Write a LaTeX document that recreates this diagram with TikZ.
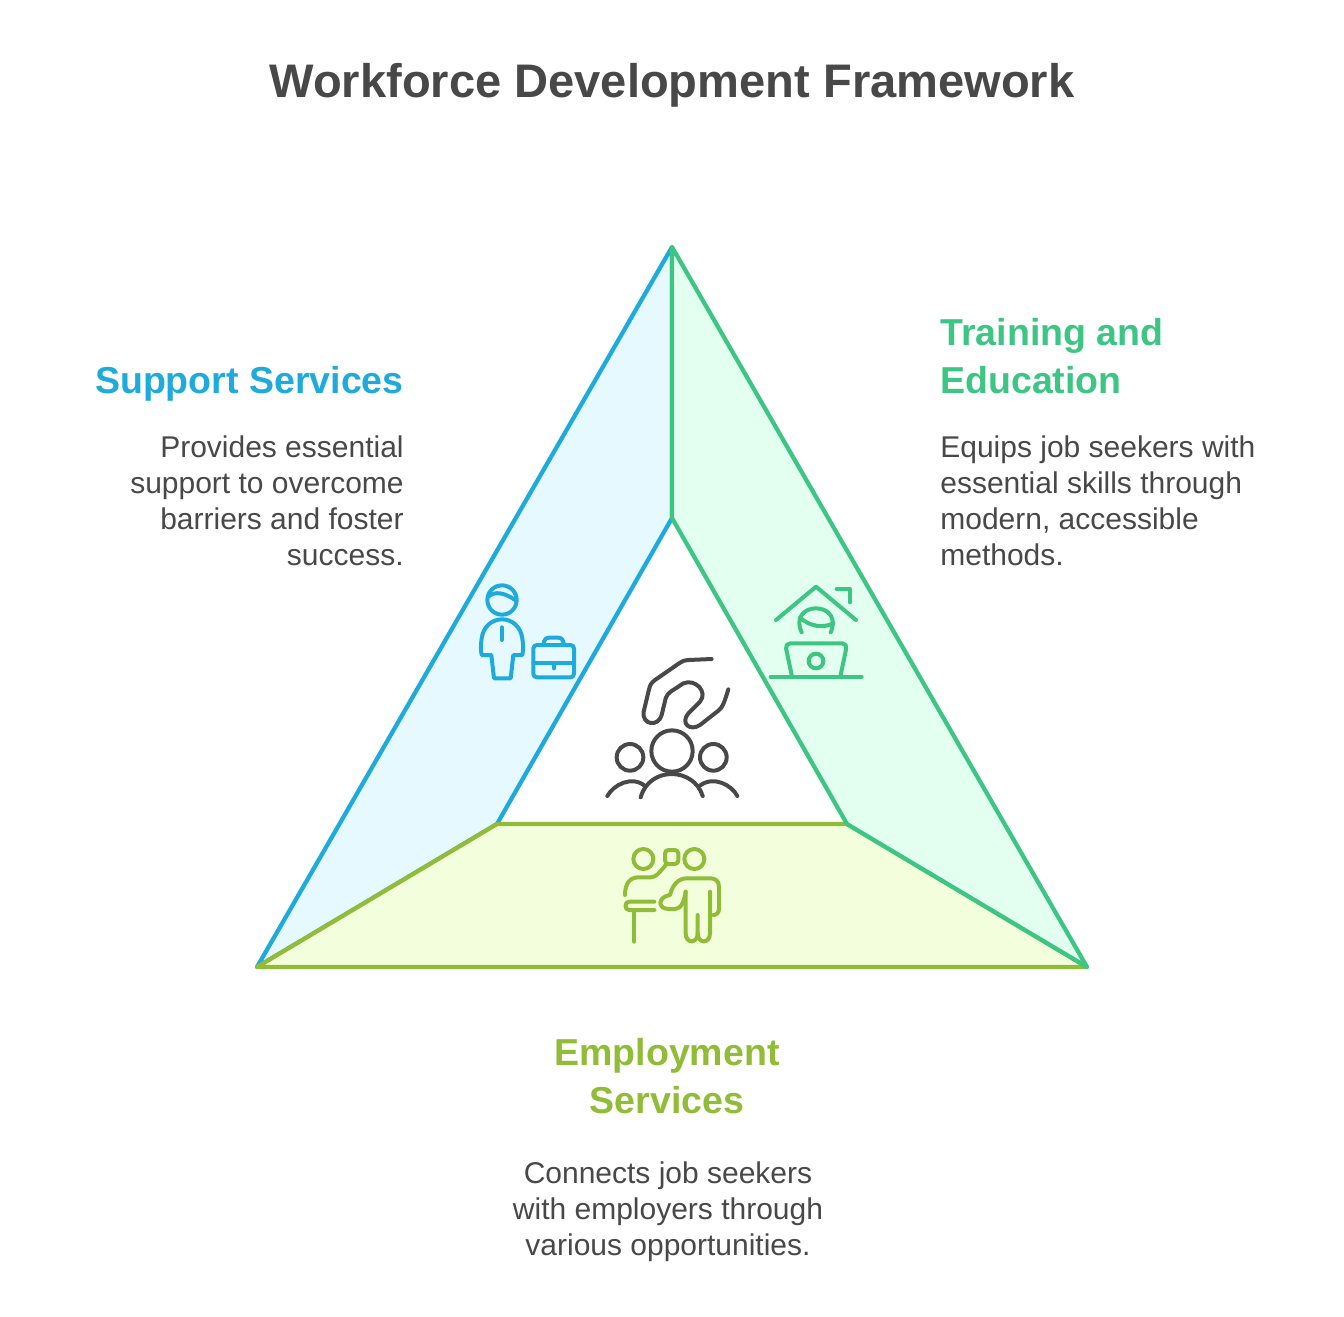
\documentclass[tikz,border=0pt]{standalone}
\usepackage{fontspec}
\setmainfont{Liberation Sans}
\usepackage{xcolor}
\definecolor{bluemain}{HTML}{1EAADB}
\definecolor{bluefill}{HTML}{E6F9FF}
\definecolor{greenmain}{HTML}{3CC583}
\definecolor{greenfill}{HTML}{E2FFF0}
\definecolor{limemain}{HTML}{90BC37}
\definecolor{limefill}{HTML}{F3FFDC}
\definecolor{textgray}{HTML}{484848}
\tikzset{
  side/.style={line width=0.085cm, line join=round},
  icon/.style={line width=0.08cm, line cap=round, line join=round},
  titletext/.style={text=textgray, font=\fontsize{26.8}{32}\selectfont\bfseries},
  headtext/.style={font=\fontsize{21.35}{27.3}\selectfont\bfseries, inner sep=0pt},
  bodytext/.style={text=textgray, font=\fontsize{17.07}{20.5}\selectfont, inner sep=0pt},
  zoomed/.style={x=0.02cm/3, y=-0.02cm/3}
}
\begin{document}
\begin{tikzpicture}[x=0.02cm,y=-0.02cm]
\useasboundingbox (0,0) rectangle (1344,1316);

\node[titletext] (title) at (672,85) {Workforce Development Framework};

%triangle
\coordinate (apex) at (672,247);
\coordinate (left) at (257,967);
\coordinate (right) at (1087,967);
\coordinate (intop) at (672,518);
\coordinate (inleft) at (497,824);
\coordinate (inright) at (847,824);

\draw[side, draw=bluemain, fill=bluefill] (apex)--(left)--(inleft)--(intop)--cycle;
\draw[side, draw=limemain, fill=limefill] (left)--(right)--(inright)--(inleft)--cycle;
\draw[side, draw=greenmain, fill=greenfill] (apex)--(right)--(inright)--(intop)--cycle;

%labels
\node[headtext, text=bluemain, anchor=north east, align=right] (supporthead) at (404,366) {Support Services};
\node[bodytext, anchor=north east, align=right] (supportbody) at (404,435) {Provides essential\\support to overcome\\barriers and foster\\success.};

\node[headtext, text=greenmain, anchor=north west, align=left] (traininghead) at (940,318) {Training and\\Education};
\node[bodytext, anchor=north west, align=left] (trainingbody) at (940,435) {Equips job seekers with\\essential skills through\\modern, accessible\\methods.};

\node[headtext, text=limemain, anchor=north, align=center] (employhead) at (667,1038) {Employment\\Services};
\node[bodytext, anchor=north, align=center] (employbody) at (668,1161) {Connects job seekers\\with employers through\\various opportunities.};

%person and briefcase
\begin{scope}[shift={(460,570)}, zoomed, icon, draw=bluemain]
\draw (126,90) circle[radius=44*0.02cm/3];
\draw (85,80) .. controls (105,62) and (135,68) .. (168,92);
\draw (126,172)--(126,210);
\draw (65,255) .. controls (62,240) and (62,225) .. (65,205) .. controls (70,170) and (95,148) .. (126,148) .. controls (157,148) and (182,170) .. (187,205) .. controls (190,225) and (190,240) .. (187,255) -- (160,255) -- (152,325) -- (102,325) -- (94,255) -- cycle;
\draw[rounded corners=2pt] (220,225) rectangle (342,322);
\draw (220,278)--(342,278);
\draw (282,280)--(282,295);
\draw (250,225) .. controls (252,208) and (258,203) .. (268,203) -- (294,203) .. controls (304,203) and (310,208) .. (312,225);
\end{scope}

%house and laptop
\begin{scope}[shift={(760,575)}, zoomed, icon, draw=greenmain]
\draw (48,135)--(168,35)--(288,135);
\draw (230,42)--(270,42)--(270,82);
\draw (125,172) .. controls (105,130) and (130,100) .. (168,100) .. controls (206,100) and (231,130) .. (212,172);
\draw (120,128) .. controls (150,155) and (190,160) .. (220,145);
\draw[rounded corners=3pt] (95,300)--(75,205)--(262,205)--(242,300);
\draw (32,305)--(305,305);
\draw (168,258) circle[radius=22*0.02cm/3];
\end{scope}

%hand and people
\begin{scope}[shift={(600,650)}, zoomed, icon, draw=textgray]
\draw (335,27) -- (265,30) .. controls (255,30) and (248,33) .. (240,38) -- (165,90) .. controls (155,97) and (150,105) .. (147,118) -- (131,185) .. controls (125,225) and (175,232) .. (185,195) -- (197,145) .. controls (200,135) and (205,130) .. (212,125) -- (250,100) .. controls (285,85) and (325,125) .. (300,155) -- (265,190) .. controls (240,220) and (270,245) .. (300,225) -- (355,182) .. controls (368,172) and (372,160) .. (385,118);
\draw (216,303) circle[radius=62*0.02cm/3];
\draw (90,322) circle[radius=40*0.02cm/3];
\draw (340,322) circle[radius=40*0.02cm/3];
\draw (122,442) .. controls (135,395) and (175,372) .. (215,372) .. controls (255,372) and (295,395) .. (308,438);
\draw (22,438) .. controls (40,405) and (95,375) .. (135,408);
\draw (298,408) .. controls (340,375) and (395,405) .. (412,438);
\end{scope}

%two people at desk
\begin{scope}[shift={(615,840)}, zoomed, icon, draw=limemain]
\draw (85,57) circle[radius=30*0.02cm/3];
\draw (238,57) circle[radius=30*0.02cm/3];
\draw[rounded corners=2pt] (150,30) rectangle (190,72);
\draw (30,165) .. controls (30,130) and (45,112) .. (70,112) -- (105,112) .. controls (125,112) and (130,100) .. (155,72);
\draw (118,185)--(42,185) .. controls (28,185) and (28,210) .. (42,210) -- (118,210);
\draw (58,210)--(58,305);
\draw (212,155)--(212,280) .. controls (212,312) and (248,312) .. (248,280) -- (248,225);
\draw (248,280) .. controls (248,312) and (285,312) .. (285,280) -- (285,155);
\draw (312,140) -- (312,205) .. controls (312,218) and (305,225) .. (295,225);
\draw (312,140) .. controls (312,125) and (302,115) .. (288,115) -- (215,115) .. controls (190,115) and (172,135) .. (165,165) .. controls (130,170) and (125,205) .. (160,207) -- (180,207) .. controls (200,207) and (208,180) .. (212,155);
\end{scope}
\end{tikzpicture}
\end{document}
